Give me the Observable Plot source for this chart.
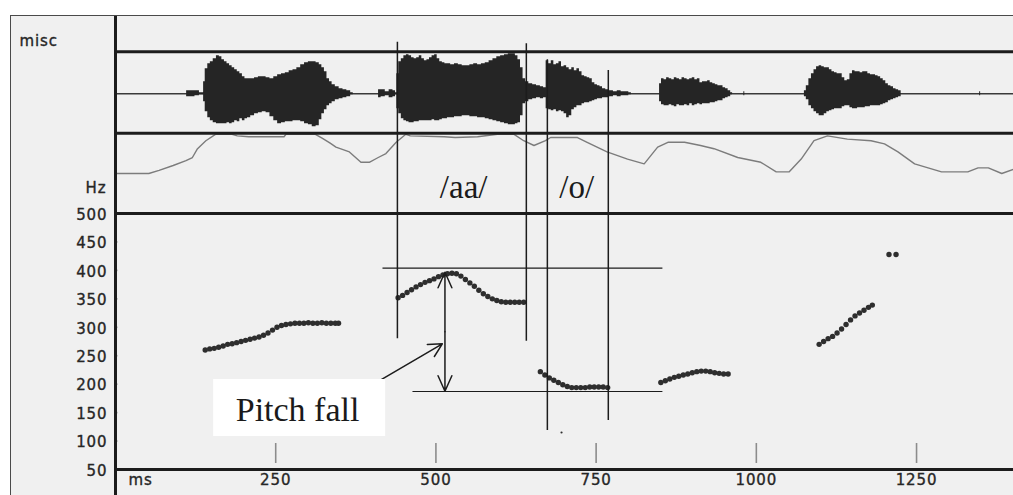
<!DOCTYPE html>
<html><head><meta charset="utf-8">
<script src="https://cdn.jsdelivr.net/npm/d3@7"></script>
<script src="https://cdn.jsdelivr.net/npm/@observablehq/plot@0.6"></script>
<style>
html,body{margin:0;padding:0;background:#fff;}
#wrap{position:relative;width:1013px;height:495px;overflow:hidden;background:#fff;}
#frame{position:absolute;left:10px;top:15px;width:1200px;height:600px;background:#f0f0f0;border-left:1.5px solid #4a4a4a;border-top:1.5px solid #4a4a4a;}
#chart{position:absolute;left:0;top:0;}
.lbl text{letter-spacing:0.9px;}
</style></head><body>
<div id="wrap"><div id="frame"></div><div id="chart"></div></div>
<script>
// ---------- data ----------
const msTicks = [250, 500, 750, 1000, 1250];
const hzTicks = [50, 100, 150, 200, 250, 300, 350, 400, 450, 500];
const panelLabels = ["misc", "Hz", "ms"];
const segmentLabels = ["/aa/", "/o/"];
const noteLabel = "Pitch fall";

// waveform envelope: [time ms, upper amplitude, lower amplitude] (full scale = 40)
const waveEnvelope = [
  [0,0,0],[110,0,0],[112,3,3],[120,3,3],[128,3,2],[134,1,1],[137,1,1],
  [138,12,8],[142,25,18],[146,30,24],[150,32,27],[155,35,29],[160,38,30],[164,37,30],[168,34,30],
  [172,32,30],[176,30,29],[180,28,30],[184,26,29],[188,24,27],[192,22,28],[196,20,25],[200,17,27],
  [204,15,25],[208,15,24],[214,15,22],[220,16,20],[226,17,19],[232,17,18],[238,16,19],[244,15,23],
  [250,17,27],[256,19,30],[262,20,29],[268,21,28],[274,23,28],[280,24,27],[286,26,27],[292,29,28],
  [298,31,30],[304,32,31],[310,32,33],[316,31,32],[320,29,26],[324,26,20],[328,22,16],[332,15,12],
  [336,12,10],[340,9,8],[346,7,6],[352,5,5],[358,4,4],[364,3,3],[370,1,1],[372,0,0],
  [410,0,0],[411,4,4],[418,4,3],[424,2,2],[430,4,4],[436,3,3],[438,1,1],
  [440,20,15],[444,32,20],[448,35,25],[452,38,27],[456,39,28],[460,38,29],[464,36,29],[468,35,28],
  [472,36,28],[476,38,27],[480,35,27],[484,33,27],[488,34,27],[492,36,27],[496,38,26],[500,39,27],
  [504,35,27],[508,32,26],[512,31,25],[516,30,25],[520,30,24],[526,29,24],[532,30,23],[538,29,23],
  [544,28,22],[550,28,22],[556,29,23],[562,30,23],[568,29,24],[574,30,24],[580,31,25],[586,33,26],
  [592,35,27],[598,37,28],[604,38,29],[610,39,30],[616,40,31],[622,40,31],[626,38,30],[630,34,29],
  [634,26,22],[638,15,10],[642,12,8],[648,10,6],[654,9,5],[660,8,4],[666,7,5],[670,6,4],
  [674,33,15],[678,30,16],[682,33,17],[686,29,16],[690,30,18],[694,32,17],[698,27,18],[702,28,20],
  [706,26,24],[710,24,22],[714,26,16],[718,23,14],[722,25,12],[726,22,12],[730,18,10],[734,17,9],
  [738,16,9],[742,15,8],[746,11,7],[750,9,6],[754,8,5],[758,7,5],[762,5,4],[768,4,4],[774,3,3],
  [780,2,2],[786,3,3],[792,2,2],[798,2,2],[804,1,1],[806,0,0],[848,0,0],
  [850,10,8],[854,15,11],[858,14,12],[862,16,12],[866,15,11],[870,14,12],[874,16,13],[878,15,11],
  [882,14,12],[886,16,12],[890,15,11],[894,14,12],[898,15,10],[902,16,12],[906,14,11],[910,15,10],
  [914,11,11],[918,12,10],[922,12,10],[926,13,10],[930,11,9],[934,10,9],[938,9,8],[942,8,7],
  [946,8,7],[950,6,5],[954,5,4],[958,3,3],[962,1,1],[964,0,0],[980,0,0],[981,2,2],[983,0,0],
  [1074,0,0],[1076,3,3],[1080,8,6],[1084,15,12],[1088,20,15],[1092,24,18],[1096,27,20],[1100,28,22],
  [1104,27,22],[1108,26,20],[1112,26,18],[1116,24,17],[1120,22,16],[1124,21,15],[1128,20,15],
  [1132,20,15],[1136,16,13],[1140,13,12],[1144,14,12],[1148,20,14],[1152,23,15],[1156,22,15],
  [1160,22,14],[1164,21,14],[1168,22,14],[1172,22,13],[1176,20,13],[1180,19,12],[1184,19,12],
  [1188,18,12],[1192,17,12],[1196,15,11],[1200,13,10],[1204,10,9],[1208,8,7],[1212,7,6],[1216,5,5],
  [1220,4,4],[1224,3,3],[1228,0,0],[1348,0,0],[1349,2,2],[1351,0,0],[1401,0,0]
];

// intensity contour: [time ms, relative level 0..100]
const intensity = [
  [0,50],[52,50],[68,54],[90,60],[110,66],[120,70],[128,81],[141,91],[156,99],[182,99],[190,97],
  [208,96],[263,96],[266,99],[312,99],[323,94],[335,88],[344,83],[365,77],[383,64],[396,64],
  [410,70],[422,75],[438,89],[453,99],[460,97],[513,96],[530,95],[565,96],[596,99],[622,99],
  [637,91],[653,85],[671,91],[679,95],[721,95],[736,89],[767,77],[799,68],[825,62],[835,72],
  [846,83],[862,89],[888,89],[913,85],[934,81],[971,70],[1007,64],[1031,52],[1051,52],[1070,68],
  [1090,91],[1111,97],[1142,93],[1179,91],[1200,87],[1221,77],[1247,62],[1289,52],[1330,52],
  [1346,57],[1362,57],[1383,50],[1401,55]
];

// pitch track segments: [time ms, Hz]
const pitchSeg1 = [[140,260],[147,262],[154,263],[161,265],[168,267],[175,270],[182,271],[189,273],
  [196,275],[203,277],[210,279],[217,281],[224,283],[231,286],[238,290],[245,295],[252,300],[259,303],
  [266,305],[273,306],[280,307],[287,307],[294,307],[301,308],[308,307],[315,307],[322,308],[329,307],
  [336,307],[343,307],[348,307]];
const pitchSeg2 = [[441,352],[448,356],[455,361],[462,366],[469,371],[476,375],[483,379],[490,382],
  [497,385],[504,389],[511,392],[518,394],[525,395],[532,394],[539,390],[546,384],[553,378],[560,372],
  [567,365],[574,359],[581,354],[588,350],[595,347],[602,345],[609,344],[616,344],[623,344],[630,344],[637,344]];
const pitchSeg3 = [[663,222],[670,216],[677,211],[684,207],[691,203],[698,199],[705,196],[712,194],
  [719,194],[726,194],[733,194],[740,195],[747,195],[754,195],[761,195],[768,194]];
const pitchSeg4 = [[851,203],[858,206],[865,209],[872,212],[879,214],[886,216],[893,218],[900,220],
  [907,222],[914,223],[921,223],[928,222],[935,220],[942,219],[949,218],[956,218]];
const pitchSeg5 = [[1098,270],[1105,275],[1112,280],[1119,284],[1126,290],[1133,297],[1140,305],
  [1147,313],[1154,320],[1161,325],[1168,330],[1175,335],[1181,339]];
const pitchSeg6 = [[1207,428],[1218,428]];
const pitchStray = [[696,115]];

// ---------- layout (vertical positions in Hz-equivalent units of the shared y scale) ----------
const Y_DOMAIN = [4.3, 874.4];
const FRAME_TOP = 846.3;
const WAVE_TOP = 784.2, WAVE_CENTER = 710.4, WAVE_UNIT = 1.758;
const INT_TOP = 641.2, INT_BASE = 500, INT_UNIT = 1.406;
const PITCH_TOP = 500, PITCH_BOTTOM = 50;
const TICK_TOP = 95.7, TICK_BOTTOM = 60.5;

// annotations
const boundaries = [
  {t: 439.9, top: 801.1, bottom: 279.7},
  {t: 641.1, top: 798.3, bottom: 275.5},
  {t: 673.9, top: 770.2, bottom: 118.6},
  {t: 769.0, top: 751.4, bottom: 136.1}
];
const levels = [
  {hz: 403.8, t1: 417.4, t2: 854.2},
  {hz: 187.1, t1: 464.2, t2: 854.2}
];
const fallArrow = {t: 514.1, hi: 396.8, lo: 187.6, mid: 292};
const pointer = {t1: 412.7, y1: 206.5, t2: 510, y2: 271};
const noteBox = {t1: 153.2, t2: 421.6, y1: 108.0, y2: 208.2, tx: 187.6, ty: 154.8};
const segLabelPos = [{t: 543.3, y: 545.9}, {t: 719.6, y: 545.9}];
const HZ_LABEL_Y = 544.8;

const X = d => d[0];
const pitchAll = [...pitchSeg1, ...pitchSeg2, ...pitchSeg3, ...pitchSeg4, ...pitchSeg5, ...pitchSeg6];
const INK = "#1c1c1c";
const SERIF = "Liberation Serif, Times New Roman, serif";
const LBL = {fill: "#262626", stroke: "#262626", strokeWidth: 0.35, fontSize: 15, className: "lbl"};

const chart = Plot.plot({
  width: 1013, height: 495,
  marginLeft: 115, marginRight: 0, marginTop: 0, marginBottom: 0,
  x: {domain: [0, 1401.3], axis: null},
  y: {domain: Y_DOMAIN, axis: null},
  style: {background: "transparent", fontFamily: "DejaVu Sans, sans-serif", fontSize: "15px", color: "#262626", overflow: "visible"},
  marks: [
    // pitch grid
    Plot.ruleY(hzTicks.filter(v => v > PITCH_BOTTOM && v < PITCH_TOP), {x1: 4, stroke: "#a2a2a2", strokeWidth: 1.6}),
    // time ticks
    Plot.ruleX(msTicks, {y1: TICK_TOP, y2: TICK_BOTTOM, stroke: "#8c8c8c", strokeWidth: 1.6}),
    // waveform
    Plot.ruleY([WAVE_CENTER], {stroke: "#3a3a3a", strokeWidth: 1.4}),
    Plot.areaY(waveEnvelope, {x: X, y1: d => WAVE_CENTER - d[2] * WAVE_UNIT, y2: d => WAVE_CENTER + d[1] * WAVE_UNIT, fill: "#252525", curve: "step"}),
    // intensity contour
    Plot.line(intensity, {x: X, y: d => INT_BASE + d[1] * INT_UNIT, stroke: "#7c7c7c", strokeWidth: 1.4}),
    // panel borders
    Plot.ruleY([WAVE_TOP, INT_TOP, PITCH_TOP, PITCH_BOTTOM], {stroke: INK, strokeWidth: 3}),
    Plot.ruleX([0], {y1: FRAME_TOP, y2: Y_DOMAIN[0], stroke: INK, strokeWidth: 3}),
    // pitch track
    Plot.dot(pitchAll, {x: X, y: d => d[1], r: 2.7, fill: "#2e2e2e"}),
    Plot.dot(pitchStray, {x: X, y: d => d[1], r: 1.1, fill: "#2e2e2e"}),
    // annotations
    Plot.ruleX(boundaries, {x: "t", y1: "top", y2: "bottom", stroke: INK, strokeWidth: 1.5}),
    Plot.ruleY(levels, {y: "hz", x1: "t1", x2: "t2", stroke: INK, strokeWidth: 1.2}),
    Plot.arrow([fallArrow], {x1: "t", x2: "t", y1: "mid", y2: "hi", stroke: INK, strokeWidth: 1.5, headLength: 17, headAngle: 48}),
    Plot.arrow([fallArrow], {x1: "t", x2: "t", y1: "mid", y2: "lo", stroke: INK, strokeWidth: 1.5, headLength: 17, headAngle: 48}),
    Plot.arrow([pointer], {x1: "t1", y1: "y1", x2: "t2", y2: "y2", stroke: INK, strokeWidth: 1.5, headLength: 15, headAngle: 55}),
    Plot.rect([noteBox], {x1: "t1", x2: "t2", y1: "y1", y2: "y2", fill: "white"}),
    Plot.text([noteBox], {x: "tx", y: "ty", text: () => noteLabel, textAnchor: "start", fontFamily: SERIF, fontSize: 34, fill: "#1a1a1a"}),
    Plot.text(segmentLabels, {x: (d, i) => segLabelPos[i].t, y: (d, i) => segLabelPos[i].y, text: d => d, fontFamily: SERIF, fontSize: 33, fill: "#1a1a1a"}),
    // axis labels
    Plot.text(hzTicks, {...LBL, y: d => d, text: d => String(d), frameAnchor: "left", dx: -8, dy: 1.5, textAnchor: "end"}),
    Plot.text(msTicks, {...LBL, x: d => d, text: d => String(d), frameAnchor: "bottom", dy: -10.8}),
    Plot.text([panelLabels[0]], {...LBL, text: d => d, frameAnchor: "top-left", dx: -96, dy: 34.5, textAnchor: "start"}),
    Plot.text([panelLabels[1]], {...LBL, y: () => HZ_LABEL_Y, text: d => d, frameAnchor: "left", dx: -9, textAnchor: "end"}),
    Plot.text([panelLabels[2]], {...LBL, text: d => d, frameAnchor: "bottom-left", dx: 13, dy: -10.8, textAnchor: "start"})
  ]
});
document.getElementById("chart").appendChild(chart);
</script>
</body></html>
